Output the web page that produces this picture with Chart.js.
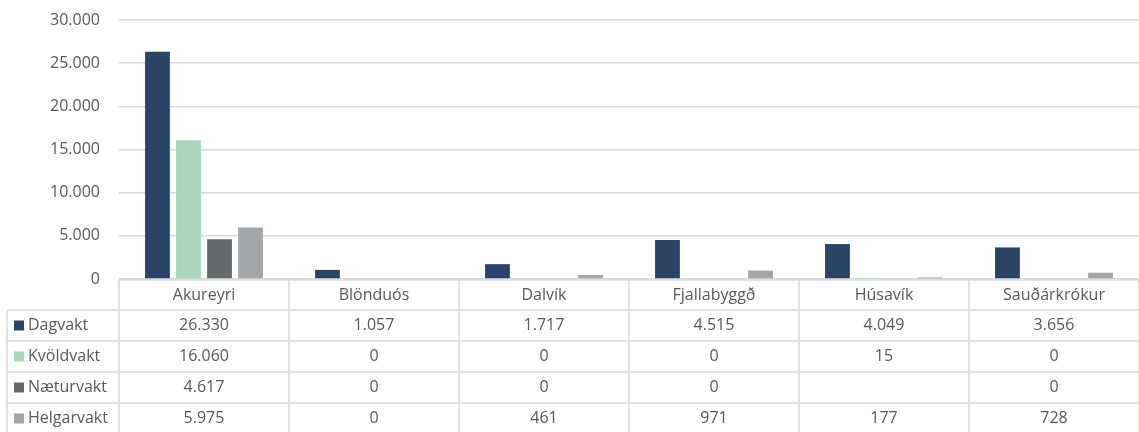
<!DOCTYPE html>
<html>
<head>
<meta charset="utf-8">
<script src="https://cdn.jsdelivr.net/npm/chart.js@4"></script>
<style>
  html, body { margin: 0; padding: 0; background: #fff; }
  #wrap { width: 1139px; height: 432px; position: relative; }
</style>
</head>
<body>
<div id="wrap"><canvas id="vaktChart"></canvas></div>
<script>
const categories = ['Akureyri', 'Blönduós', 'Dalvík', 'Fjallabyggð', 'Húsavík', 'Sauðárkrókur'];
const dagvakt = [26330, 1057, 1717, 4515, 4049, 3656];
const kvoldvakt = [16060, 0, 0, 0, 15, 0];
const naeturvakt = [4617, 0, 0, 0, null, 0];
const helgarvakt = [5975, 0, 461, 971, 177, 728];
const yTicks = [0, 5000, 10000, 15000, 20000, 25000, 30000];

const seriesNames = ['Dagvakt', 'Kvöldvakt', 'Næturvakt', 'Helgarvakt'];
const seriesColors = ['#2a4467', '#a8d5bc', '#656a6c', '#a2a6a9'];
const seriesData = [dagvakt, kvoldvakt, naeturvakt, helgarvakt];

const textColor = '#595959';
const lineColor = '#d9d9d9';
const fontFamily = '"Open Sans", sans-serif';

function fmt(v) {
  if (v === null || v === undefined) return '';
  return String(v).replace(/\B(?=(\d{3})+(?!\d))/g, '.');
}

// data table under the plot, aligned with the category scale
const dataTable = {
  id: 'dataTable',
  afterDraw(chart) {
    const ctx = chart.ctx;
    const area = chart.chartArea;
    const xs = chart.scales.x;
    const colW = (area.right - area.left) / categories.length;
    const top = area.bottom + 1;
    const headH = 30;
    const rowH = 31;
    const tableLeft = 7;
    const bottom = top + headH + rowH * seriesNames.length;

    ctx.save();
    ctx.strokeStyle = lineColor;
    ctx.lineWidth = 1.5;

    // horizontal lines
    ctx.beginPath();
    ctx.moveTo(area.left, top);
    ctx.lineTo(area.right, top);
    for (let r = 0; r <= seriesNames.length; r++) {
      const y = top + headH + r * rowH;
      ctx.moveTo(tableLeft, y);
      ctx.lineTo(area.right, y);
    }
    // vertical lines
    ctx.moveTo(tableLeft, top + headH);
    ctx.lineTo(tableLeft, bottom);
    for (let i = 0; i <= categories.length; i++) {
      const x = area.left + i * colW;
      ctx.moveTo(x, top);
      ctx.lineTo(x, bottom);
    }
    ctx.stroke();

    ctx.font = '16px ' + fontFamily;
    ctx.fillStyle = textColor;
    ctx.textAlign = 'center';
    ctx.textBaseline = 'middle';

    categories.forEach((c, i) => {
      const cx = xs.getPixelForValue(i);
      ctx.fillText(c, cx, top + headH / 2);
      seriesData.forEach((arr, s) => {
        ctx.fillText(fmt(arr[i]), cx, top + headH + s * rowH + rowH / 2);
      });
    });

    // series labels with colour keys
    ctx.textAlign = 'left';
    seriesNames.forEach((name, s) => {
      const cy = top + headH + s * rowH + rowH / 2;
      ctx.fillStyle = seriesColors[s];
      ctx.fillRect(14, cy - 5, 10, 10);
      ctx.fillStyle = textColor;
      ctx.fillText(name, 28, cy);
    });
    ctx.restore();
  }
};

new Chart(document.getElementById('vaktChart'), {
  type: 'bar',
  data: {
    labels: categories,
    datasets: seriesNames.map((name, s) => ({
      label: name,
      data: seriesData[s],
      backgroundColor: seriesColors[s],
      borderWidth: 0,
      barPercentage: 0.8,
      categoryPercentage: 0.73
    }))
  },
  options: {
    responsive: true,
    maintainAspectRatio: false,
    animation: false,
    layout: {
      padding: { top: 20, right: 0, bottom: 153, left: 0 }
    },
    plugins: {
      legend: { display: false },
      tooltip: { enabled: false }
    },
    scales: {
      x: {
        display: false
      },
      y: {
        min: 0,
        max: 30000,
        afterFit: scale => {
          scale.width = 119;
          scale.paddingTop = 0;
          scale.paddingBottom = 0;
        },
        afterBuildTicks: scale => {
          scale.ticks = yTicks.map(v => ({ value: v }));
        },
        border: { display: false },
        grid: {
          color: lineColor,
          lineWidth: 1.5,
          drawTicks: false
        },
        ticks: {
          color: textColor,
          padding: 19,
          font: { family: fontFamily, size: 16 },
          callback: v => fmt(v)
        }
      }
    }
  },
  plugins: [dataTable]
});
</script>
</body>
</html>
